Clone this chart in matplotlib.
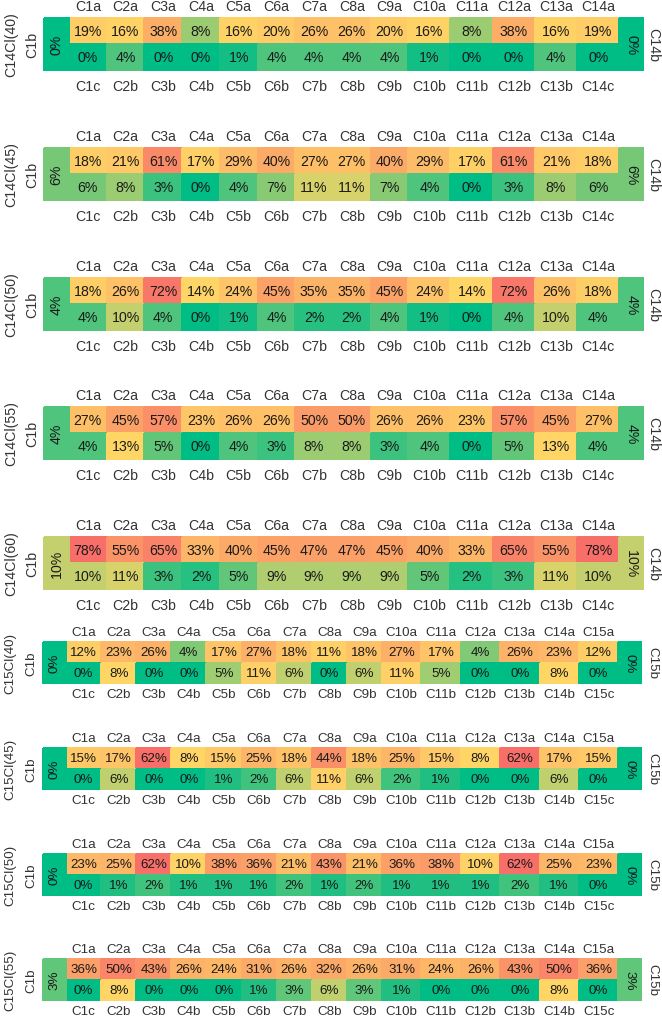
import numpy as np
import matplotlib.pyplot as plt
from matplotlib.colors import LinearSegmentedColormap, TwoSlopeNorm

plt.rcParams['font.family'] = ['Liberation Sans', 'DejaVu Sans']

# ---- data ----
panel_names = ["C14Cl(40)", "C14Cl(45)", "C14Cl(50)", "C14Cl(55)", "C14Cl(60)",
               "C15Cl(40)", "C15Cl(45)", "C15Cl(50)", "C15Cl(55)"]

c14_top_labels = [f"C{i}a" for i in range(1, 15)]
c14_bot_labels = ["C1c"] + [f"C{i}b" for i in range(2, 14)] + ["C14c"]
c15_top_labels = [f"C{i}a" for i in range(1, 16)]
c15_bot_labels = ["C1c"] + [f"C{i}b" for i in range(2, 15)] + ["C15c"]

top_vals = [
    [19, 16, 38, 8, 16, 20, 26, 26, 20, 16, 8, 38, 16, 19],
    [18, 21, 61, 17, 29, 40, 27, 27, 40, 29, 17, 61, 21, 18],
    [18, 26, 72, 14, 24, 45, 35, 35, 45, 24, 14, 72, 26, 18],
    [27, 45, 57, 23, 26, 26, 50, 50, 26, 26, 23, 57, 45, 27],
    [78, 55, 65, 33, 40, 45, 47, 47, 45, 40, 33, 65, 55, 78],
    [12, 23, 26, 4, 17, 27, 18, 11, 18, 27, 17, 4, 26, 23, 12],
    [15, 17, 62, 8, 15, 25, 18, 44, 18, 25, 15, 8, 62, 17, 15],
    [23, 25, 62, 10, 38, 36, 21, 43, 21, 36, 38, 10, 62, 25, 23],
    [36, 50, 43, 26, 24, 31, 26, 32, 26, 31, 24, 26, 43, 50, 36],
]
bot_vals = [
    [0, 4, 0, 0, 1, 4, 4, 4, 4, 1, 0, 0, 4, 0],
    [6, 8, 3, 0, 4, 7, 11, 11, 7, 4, 0, 3, 8, 6],
    [4, 10, 4, 0, 1, 4, 2, 2, 4, 1, 0, 4, 10, 4],
    [4, 13, 5, 0, 4, 3, 8, 8, 3, 4, 0, 5, 13, 4],
    [10, 11, 3, 2, 5, 9, 9, 9, 9, 5, 2, 3, 11, 10],
    [0, 8, 0, 0, 5, 11, 6, 0, 6, 11, 5, 0, 0, 8, 0],
    [0, 6, 0, 0, 1, 2, 6, 11, 6, 2, 1, 0, 0, 6, 0],
    [0, 1, 2, 1, 1, 1, 2, 1, 2, 1, 1, 1, 2, 1, 0],
    [0, 8, 0, 0, 0, 1, 3, 6, 3, 1, 0, 0, 0, 8, 0],
]
left_vals = [0, 6, 4, 4, 10, 0, 0, 0, 3]
right_vals = [0, 6, 4, 4, 10, 0, 0, 0, 3]

# ---- layout (pixels) ----
W, H = 662, 1020
row_tops = [19, 149, 279, 408, 538, 643, 749, 855, 960]

cmap = LinearSegmentedColormap.from_list("gyr", ["#00BC85", "#FFD666", "#F86E69"])
norm14 = TwoSlopeNorm(vmin=0, vcenter=13, vmax=78)
norm15 = TwoSlopeNorm(vmin=0, vcenter=8, vmax=62)

fig = plt.figure(figsize=(W / 100, H / 100), dpi=100)
ax = fig.add_axes([0, 0, 1, 1])
ax.set_xlim(0, W)
ax.set_ylim(H, 0)
ax.axis("off")

lab_col = "#333333"
txt_col = "#1a1a1a"

for p, name in enumerate(panel_names):
    is14 = p < 5
    if is14:
        x0, wl, wr = 44, 25, 24
        widths = [37.7] * 9 + [42.2] * 5
        rh = 25.8
        tl, bl = c14_top_labels, c14_bot_labels
        right_lab = "C14b"
        norm = norm14
        fs = 10.2
        lab_x, c1b_x, rlab_x = 11, 32, 653
        top_off, bot_off = 12, 16
    else:
        x0, wl, wr = 43, 23, 23
        widths = [35.1] * 9 + [39.4] * 6
        rh = 20.5
        tl, bl = c15_top_labels, c15_bot_labels
        right_lab = "C15b"
        norm = norm15
        fs = 9.6
        lab_x, c1b_x, rlab_x = 10, 31, 652
        top_off, bot_off = 10, 11.5

    y0 = row_tops[p]
    yedges = np.array([y0, y0 + rh, y0 + 2 * rh])
    xedges = x0 + wl + np.concatenate([[0], np.cumsum(widths)])
    xr = xedges[-1]

    vals = np.array([top_vals[p], bot_vals[p]], dtype=float)
    ax.pcolormesh(xedges, yedges, vals, cmap=cmap, norm=norm,
                  edgecolors="face", linewidth=0.3)
    ax.pcolormesh([x0, x0 + wl], [yedges[0], yedges[2]], [[left_vals[p]]],
                  cmap=cmap, norm=norm, edgecolors="face", linewidth=0.3)
    ax.pcolormesh([xr, xr + wr], [yedges[0], yedges[2]], [[right_vals[p]]],
                  cmap=cmap, norm=norm, edgecolors="face", linewidth=0.3)

    xc = (xedges[:-1] + xedges[1:]) / 2
    ymid = yedges[1]
    for i in range(len(widths)):
        ax.text(xc[i], (yedges[0] + yedges[1]) / 2, f"{top_vals[p][i]}%",
                ha="center", va="center", fontsize=fs, color=txt_col)
        ax.text(xc[i], (yedges[1] + yedges[2]) / 2, f"{bot_vals[p][i]}%",
                ha="center", va="center", fontsize=fs, color=txt_col)
        ax.text(xc[i], yedges[0] - top_off, tl[i], ha="center", va="center",
                fontsize=fs, color=lab_col)
        ax.text(xc[i], yedges[2] + bot_off, bl[i], ha="center", va="center",
                fontsize=fs, color=lab_col)

    ax.text(x0 + wl / 2, ymid, f"{left_vals[p]}%", rotation=90,
            ha="center", va="center", fontsize=fs, color=txt_col)
    ax.text(xr + wr / 2, ymid, f"{right_vals[p]}%", rotation=270,
            ha="center", va="center", fontsize=fs, color=txt_col)
    ax.text(lab_x, ymid, name, rotation=90, ha="center", va="center",
            fontsize=fs, color=lab_col)
    ax.text(c1b_x, ymid, "C1b", rotation=90, ha="center", va="center",
            fontsize=fs, color=lab_col)
    ax.text(rlab_x, ymid, right_lab, rotation=270, ha="center", va="center",
            fontsize=fs, color=lab_col)

fig.savefig("out.png", dpi=100)
